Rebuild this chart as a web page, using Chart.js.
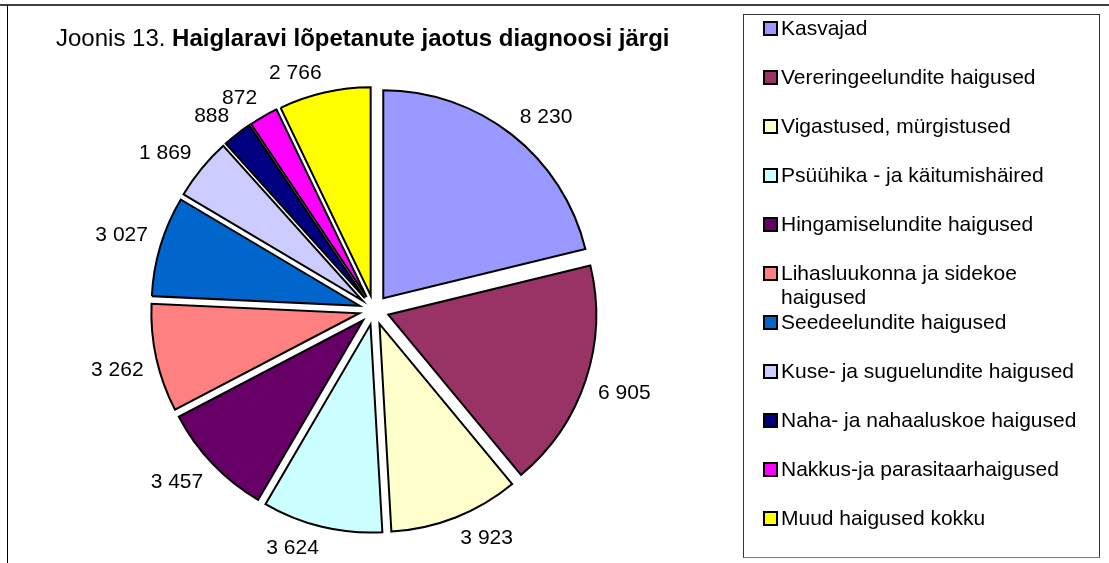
<!DOCTYPE html>
<html>
<head>
<meta charset="utf-8">
<script src="https://cdn.jsdelivr.net/npm/chart.js@4.4.1/dist/chart.umd.min.js"></script>
<style>
body { margin: 0; background: #fff; font-family: "Liberation Sans", Arial, sans-serif; }
#wrap { position: relative; width: 1109px; height: 563px; overflow: hidden; }
#c { position: absolute; left: 0; top: 0; }
.frameTop { position: absolute; left: 0; top: 4px; width: 1109px; height: 2px; background: #404040; }
.frameLeft { position: absolute; left: 7px; top: 5px; width: 1px; height: 560px; background: #000; }
#legend { position: absolute; left: 743px; top: 14px; width: 357px; height: 544px; box-sizing: border-box; border: 1px solid #333; border-bottom-color: #777; }
.item { position: absolute; left: 19px; display: flex; align-items: flex-start; }
.sw { flex: none; width: 11px; height: 11px; border: 2px solid #000; margin-top: 5px; margin-right: 3px; }
.tx { width: 310px; font-size: 21px; line-height: 24px; color: #000; }
</style>
</head>
<body>
<div id="wrap">
  <canvas id="c" width="1109" height="563"></canvas>
  <div class="frameTop"></div>
  <div class="frameLeft"></div>
  <div id="legend"></div>
</div>
<script>
// andmed
const categories = [
        'Kasvajad',
        'Vereringeelundite haigused',
        'Vigastused, mürgistused',
        'Psüühika - ja käitumishäired',
        'Hingamiselundite haigused',
        'Lihasluukonna ja sidekoe haigused',
        'Seedeelundite haigused',
        'Kuse- ja suguelundite haigused',
        'Naha- ja nahaaluskoe haigused',
        'Nakkus-ja parasitaarhaigused',
        'Muud haigused kokku'
];
const values = [8230, 6905, 3923, 3624, 3457, 3262, 3027, 1869, 888, 872, 2766];
const colors = [
        '#9999FF', '#993366', '#FFFFCC', '#CCFFFF', '#660066', '#FF8080',
        '#0066CC', '#CCCCFF', '#000080', '#FF00FF', '#FFFF00'
];
const titleNormal = 'Joonis 13. ';
const titleBold = 'Haiglaravi lõpetanute jaotus diagnoosi järgi';

const FONT = '"Liberation Sans", Arial, sans-serif';
const explode = 15;

function fmt(n) {
        return n.toString().replace(/\B(?=(\d{3})+(?!\d))/g, ' ');
}

// lahutatud sektorid: nihutame iga kaare keskpunkti valja
const explodePlugin = {
        id: 'explode',
        afterDatasetUpdate(chart, args) {
                args.meta.data.forEach(a => {
                        const mid = (a.startAngle + a.endAngle) / 2;
                        a.x += explode * Math.cos(mid);
                        a.y += explode * Math.sin(mid);
                });
        }
};

// vaartused sektorite korval (sildi lahim nurk ringil)
const valueLabels = {
        id: 'valueLabels',
        afterDatasetsDraw(chart) {
                const ctx = chart.ctx;
                const meta = chart.getDatasetMeta(0);
                ctx.save();
                ctx.font = '21px ' + FONT;
                ctx.fillStyle = '#000';
                ctx.textAlign = 'center';
                ctx.textBaseline = 'middle';
                meta.data.forEach((a, i) => {
                        const txt = fmt(values[i]);
                        const w = ctx.measureText(txt).width;
                        const h = 16;
                        const mid = (a.startAngle + a.endAngle) / 2;
                        const ux = Math.cos(mid), uy = Math.sin(mid);
                        const cx = a.x - explode * ux, cy = a.y - explode * uy;
                        const d = a.outerRadius + 28;
                        const x = cx + ux * d + Math.sign(ux) * w / 2;
                        const y = cy + uy * d + Math.sign(uy) * h / 2;
                        ctx.fillText(txt, x, y + 1);
                });
                ctx.restore();
        }
};

// pealkiri: osa tavaline, osa paks
const titlePlugin = {
        id: 'mixedTitle',
        afterDraw(chart) {
                const ctx = chart.ctx;
                ctx.save();
                ctx.fillStyle = '#000';
                ctx.textBaseline = 'alphabetic';
                ctx.font = '24px ' + FONT;
                ctx.fillText(titleNormal, 56, 46);
                const w = ctx.measureText(titleNormal).width;
                ctx.font = 'bold 24px ' + FONT;
                ctx.fillText(titleBold, 56 + w, 46);
                ctx.restore();
        }
};

const data = {
        labels: categories,
        datasets: [{
                data: values,
                backgroundColor: colors,
                borderColor: '#000',
                borderWidth: 2,
                borderJoinStyle: 'miter'
        }]
};

const config = {
        type: 'pie',
        data: data,
        options: {
                responsive: false,
                animation: false,
                radius: 208,
                layout: { padding: { left: 0, right: 361, top: 57, bottom: 0 } },
                plugins: {
                        legend: { display: false },
                        tooltip: { enabled: false }
                }
        },
        plugins: [explodePlugin, valueLabels, titlePlugin]
};

const myChart = new Chart(document.getElementById('c'), config);

// legend paremal, kastis
const legendBox = document.getElementById('legend');
myChart.data.labels.forEach((lab, i) => {
        const item = document.createElement('div');
        item.className = 'item';
        item.style.top = (1 + i * 49) + 'px';
        const sw = document.createElement('span');
        sw.className = 'sw';
        sw.style.background = myChart.data.datasets[0].backgroundColor[i];
        const tx = document.createElement('span');
        tx.className = 'tx';
        tx.textContent = lab;
        item.appendChild(sw);
        item.appendChild(tx);
        legendBox.appendChild(item);
});
</script>
</body>
</html>
